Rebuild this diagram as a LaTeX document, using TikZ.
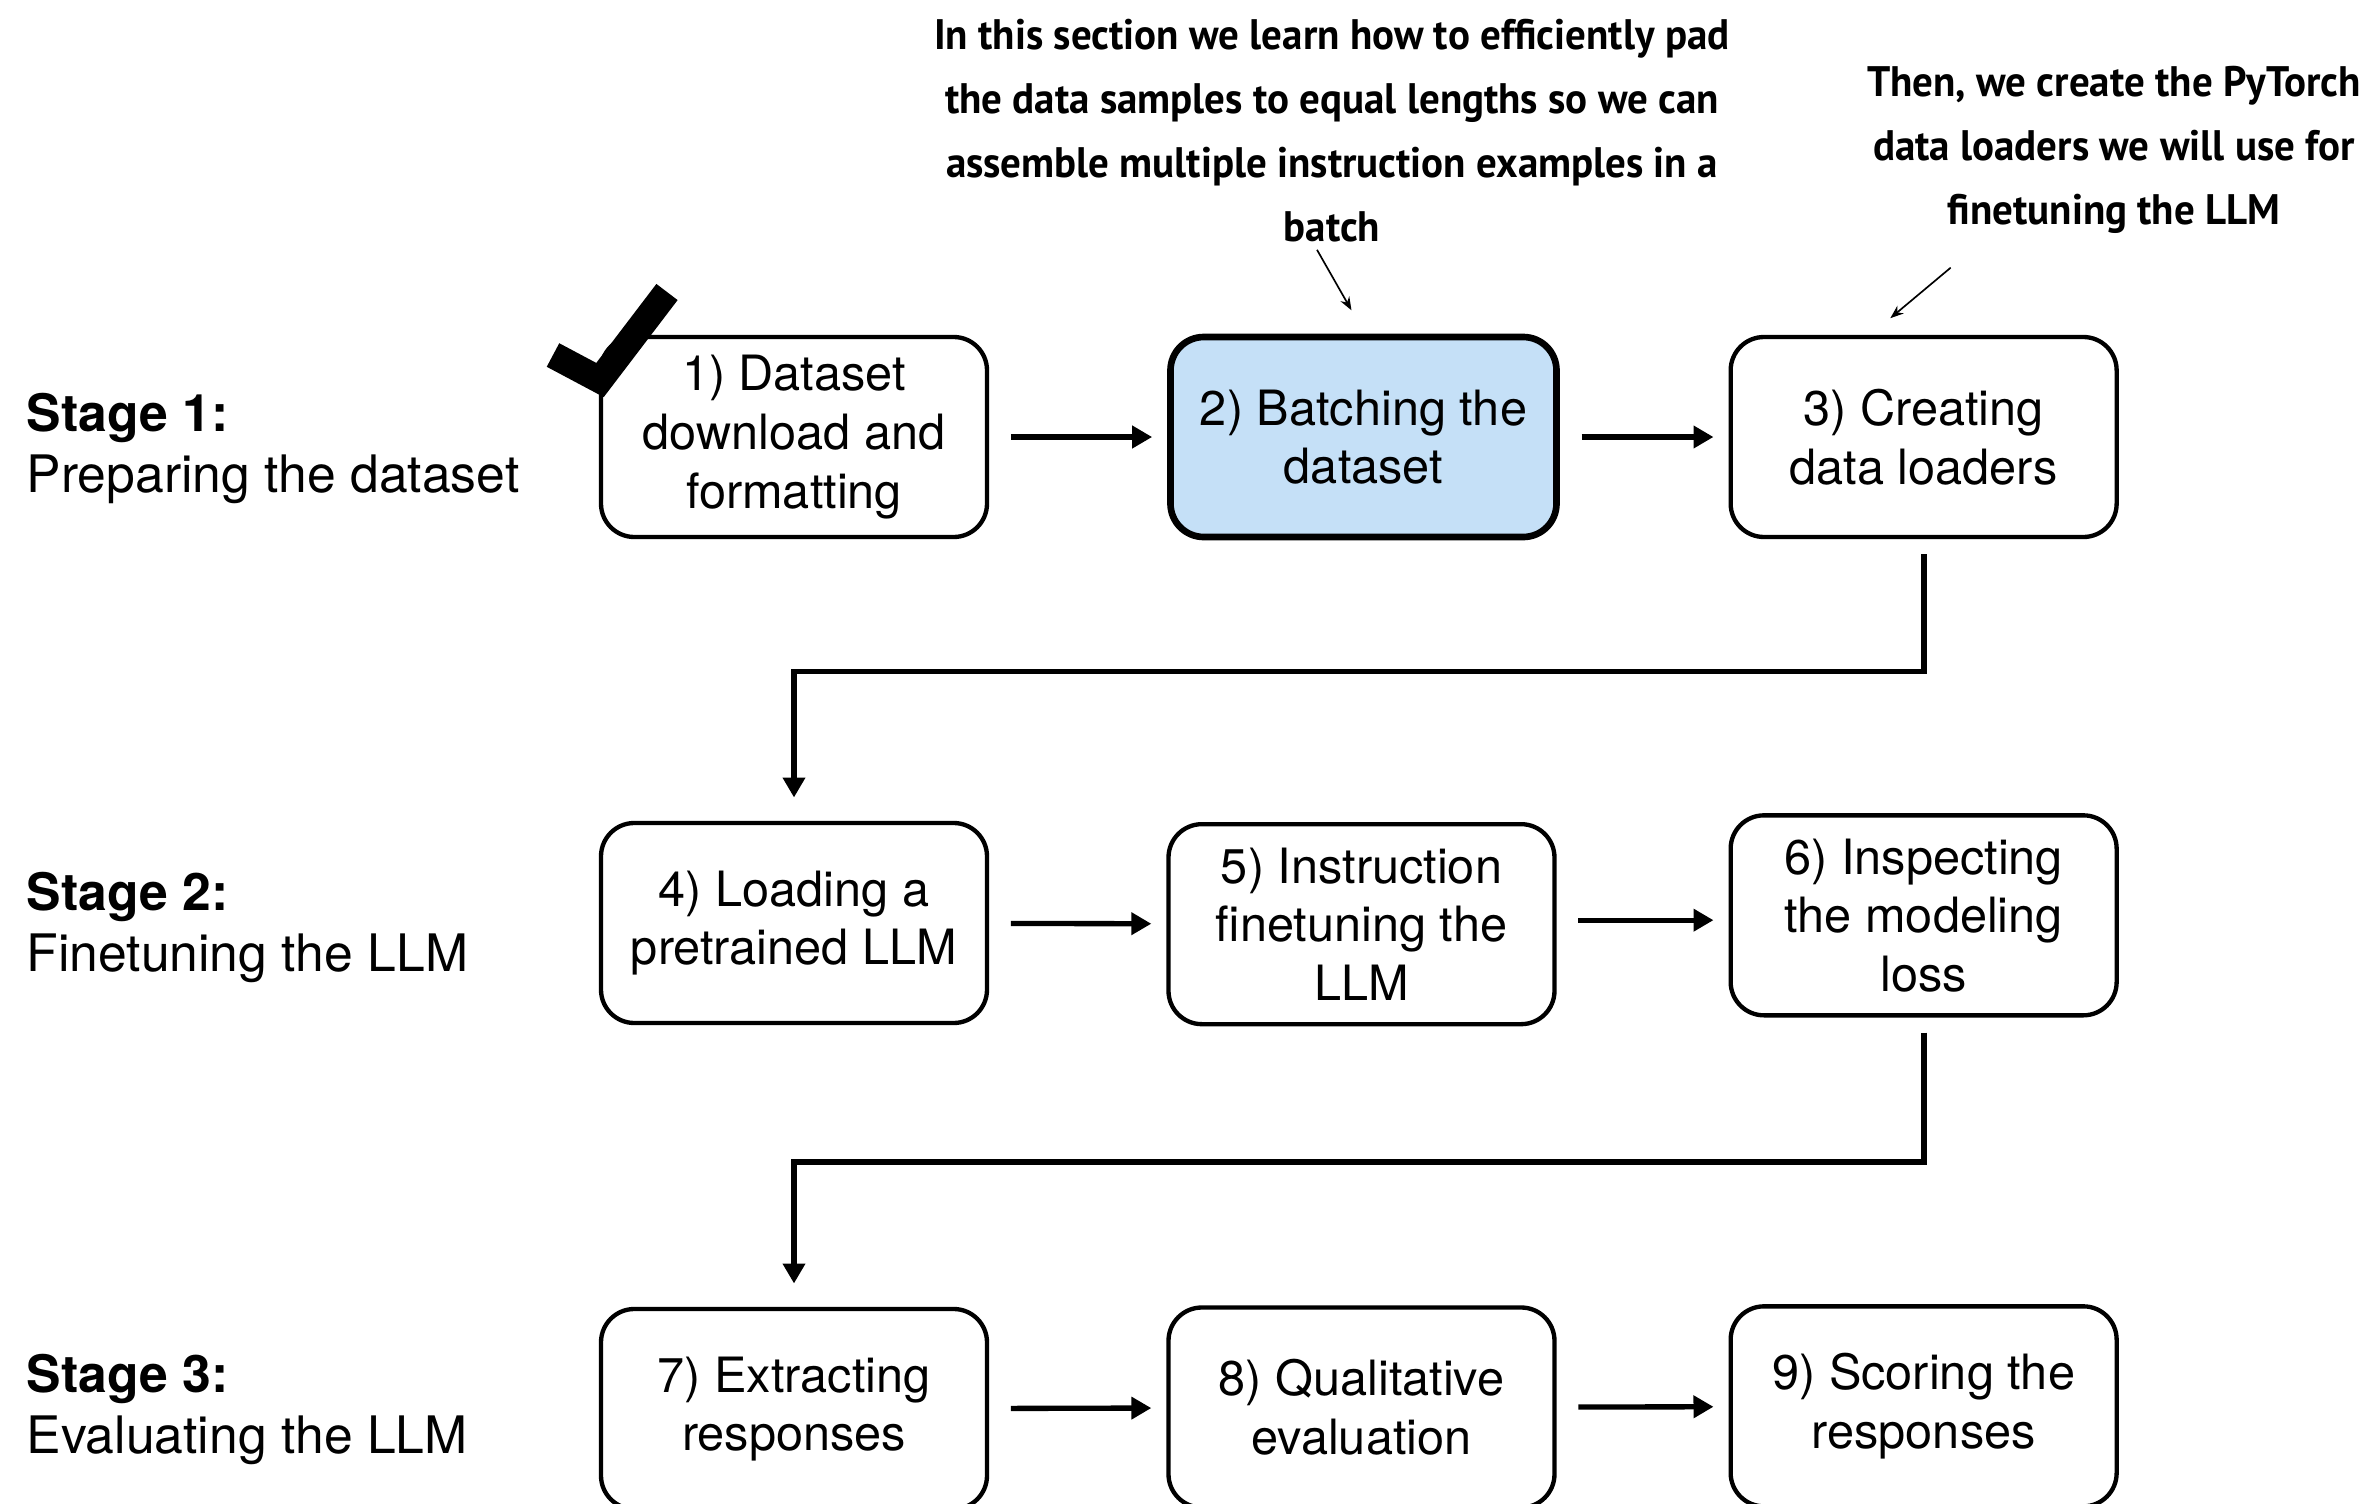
\documentclass[tikz,border=0pt]{standalone}
\usepackage{fontspec}
\setmainfont{TeX Gyre Heros}
\newfontfamily\notefont{PT Sans}[FakeStretch=0.96]
\usetikzlibrary{
  arrows.meta,
  calc,
  positioning,
}
\tikzstyle{stepbox} = [
  rectangle,
  draw,
  rounded corners=10pt,
  line width=1.3pt,
  minimum width=115.8pt,
  minimum height=60pt,
  align=center,
  font=\fontsize{14.6}{17.6}\selectfont,
]
\tikzstyle{arrow} = [
  -{Triangle[length=6pt,width=6.5pt]},
  line width=1.6pt,
  shorten <=6.5pt,
  shorten >=4.5pt,
]
\tikzstyle{elbow} = [
  -{Triangle[length=6pt,width=6.5pt]},
  line width=1.7pt,
  shorten <=4.5pt,
  shorten >=7pt,
]
\tikzstyle{pointer} = [
  -{Stealth[length=4pt,width=3pt]},
  line width=0.5pt,
]
\tikzstyle{stagelabel} = [anchor=west, align=left, inner sep=0pt, font=\fontsize{15.5}{18.3}\selectfont]
\tikzstyle{note} = [align=center, inner sep=0pt, font=\notefont\bfseries\fontsize{12.8}{19.2}\selectfont]
\definecolor{batchblue}{RGB}{197, 224, 247}

\begin{document}
\begin{tikzpicture}[x=0.3pt, y=0.3pt, node distance=84.5pt and 54pt]
      \useasboundingbox (0,0) rectangle (2373,-1504);
      \clip (0,0) rectangle (2373,-1504);

      % stage 1
      \node[stepbox] (download) at (794,-437) {1) Dataset\\download and\\formatting};
      \node[stepbox,fill=batchblue,line width=2pt,xshift=-0.6pt] (batching) [right=of download] {2) Batching the\\dataset};
      \node[stepbox,xshift=-3.4pt] (loaders) [right=of batching] {3) Creating\\data loaders};

      % stage 2
      \node[stepbox] (pretrained) [below=of download] {4) Loading a\\pretrained LLM};
      \node[stepbox,xshift=-0.6pt] (finetune) [below=of batching] {5) Instruction\\finetuning the\\LLM};
      \node[stepbox,yshift=2.3pt] (loss) [below=of loaders] {6) Inspecting\\the modeling\\loss};

      % stage 3
      \node[stepbox] (extract) [below=of pretrained] {7) Extracting\\responses};
      \node[stepbox,xshift=-0.6pt] (qualitative) [below=of batching, yshift=-145pt] {8) Qualitative\\evaluation};
      \node[stepbox] (scoring) [below=of loaders, yshift=-145pt] {9) Scoring the\\responses};

      \node[stagelabel] (stage1) at (26,-448) {\textbf{Stage 1:}\\Preparing the dataset};
      \node[stagelabel] (stage2) at (26,-927) {\textbf{Stage 2:}\\Finetuning the LLM};
      \node[stagelabel] (stage3) at (26,-1409) {\textbf{Stage 3:}\\Evaluating the LLM};

      \node[note] (note1) at (1332,-131) {In this section we learn how to efficiently pad\\the data samples to equal lengths so we can\\assemble multiple instruction examples in a\\batch};
      \node[note] (note2) at (2114,-150) {Then, we create the PyTorch\\data loaders we will use for\\finetuning the LLM};

      % check mark
      \draw[line width=8pt, line cap=butt, line join=miter] (553,-355) -- (600,-380) -- (667,-292);

      \draw[arrow] (download) -- (batching);
      \draw[arrow] (batching) -- (loaders);
      \draw[arrow] (pretrained) -- (finetune);
      \draw[arrow] ([yshift=1.2pt]finetune.east) -- ([yshift=1.2pt]finetune.east -| loss.west);
      \draw[arrow] (extract) -- (qualitative);
      \draw[arrow] (qualitative) -- (scoring);

      \coordinate (turn1) at ($(loaders.south)!0.47!(pretrained.north)$);
      \coordinate (turn2) at ($(loss.south)!0.5!(extract.north)$);
      \draw[elbow] (loaders.south) |- (turn1) -| (pretrained.north);
      \draw[elbow] (loss.south) |- (turn2) -| (extract.north);

      \draw[pointer] ([xshift=-4.5pt,yshift=-2pt]note1.south) -- ([xshift=-3.6pt,yshift=7pt]batching.north);
      \draw[pointer] ([xshift=-49pt,yshift=-10pt]note2.south) -- ([xshift=-10pt,yshift=5pt]loaders.north);
\end{tikzpicture}
\end{document}
